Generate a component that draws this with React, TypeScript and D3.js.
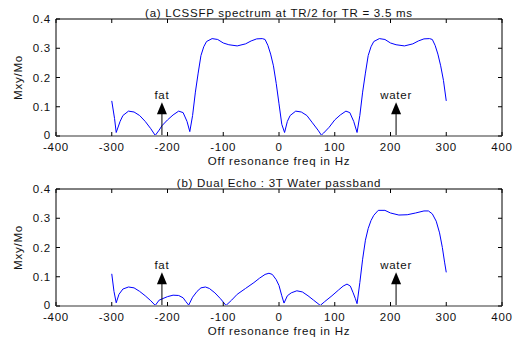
import React from 'react';
import * as d3 from 'd3';

// spectrum (a): off-resonance freq (Hz) and Mxy/Mo
const freqA = [-300, -295, -292, -285, -280, -270, -260, -250, -240, -230, -222, -215, -210, -200, -190, -180, -172, -165, -160, -155, -150, -145, -140, -135, -130, -120, -110, -100, -90, -75, -60, -50, -40, -30, -25, -20, -15, -10, -5, 0, 5, 10, 15, 20, 30, 40, 50, 60, 70, 76, 80, 90, 100, 110, 120, 127, 134, 140, 145, 150, 155, 160, 165, 170, 180, 190, 200, 210, 225, 240, 250, 260, 270, 275, 280, 285, 290, 295, 300];
const mxyA = [0.12, 0.06, 0.012, 0.05, 0.07, 0.085, 0.082, 0.07, 0.05, 0.025, 0.002, 0.02, 0.035, 0.055, 0.072, 0.085, 0.08, 0.05, 0.015, 0.07, 0.15, 0.215, 0.275, 0.305, 0.323, 0.333, 0.33, 0.318, 0.312, 0.308, 0.315, 0.325, 0.332, 0.333, 0.33, 0.31, 0.28, 0.24, 0.18, 0.11, 0.04, 0.012, 0.05, 0.07, 0.085, 0.082, 0.07, 0.045, 0.02, 0.003, 0.01, 0.03, 0.055, 0.072, 0.085, 0.08, 0.05, 0.012, 0.07, 0.15, 0.215, 0.275, 0.305, 0.323, 0.333, 0.33, 0.318, 0.312, 0.308, 0.315, 0.325, 0.332, 0.333, 0.33, 0.31, 0.28, 0.24, 0.19, 0.12];

// spectrum (b): dual echo, 3T water passband
const freqB = [-300, -296, -292, -287, -280, -270, -260, -250, -240, -230, -222, -215, -210, -200, -190, -180, -172, -167, -162, -155, -147, -140, -132, -125, -115, -105, -95, -85, -75, -60, -45, -35, -25, -18, -12, -5, 0, 5, 9, 15, 22, 32, 42, 52, 62, 74, 82, 95, 107, 115, 122, 128, 133, 137, 140, 145, 150, 155, 160, 165, 170, 178, 190, 200, 215, 230, 245, 260, 268, 275, 282, 288, 293, 297, 300];
const mxyB = [0.11, 0.05, 0.011, 0.04, 0.058, 0.065, 0.062, 0.05, 0.035, 0.018, 0.002, 0.02, 0.024, 0.032, 0.037, 0.036, 0.028, 0.015, 0.003, 0.03, 0.05, 0.062, 0.065, 0.06, 0.045, 0.025, 0.002, 0.02, 0.04, 0.06, 0.08, 0.095, 0.108, 0.112, 0.108, 0.09, 0.07, 0.035, 0.01, 0.035, 0.045, 0.052, 0.048, 0.035, 0.02, 0.002, 0.015, 0.035, 0.055, 0.068, 0.075, 0.068, 0.045, 0.025, 0.008, 0.08, 0.16, 0.225, 0.265, 0.292, 0.31, 0.327, 0.327, 0.318, 0.311, 0.312, 0.318, 0.325, 0.325, 0.315, 0.29, 0.25, 0.2, 0.15, 0.115];

// peak markers
const markerNames = ['fat', 'water'];
const markerFreqs = [-210, 210];
const markerHeight = 0.115;

const xTicks = [-400, -300, -200, -100, 0, 100, 200, 300, 400];
const yTicks = [0, 0.1, 0.2, 0.3, 0.4];

const titles = ['(a) LCSSFP spectrum at TR/2 for TR = 3.5 ms', '(b) Dual Echo : 3T Water passband'];

const W = 521;
const H = 339;
const left = 56;
const right = 502;
const font = '"Liberation Sans", Arial, sans-serif';

function Panel(props: { top: number; bottom: number; title: string; freq: number[]; mxy: number[] }) {
  const { top, bottom, title, freq, mxy } = props;
  const x = d3.scaleLinear().domain([-400, 400]).range([left, right]);
  const y = d3.scaleLinear().domain([0, 0.4]).range([bottom, top]);
  const line = d3.line<number>()
    .x((d, i) => x(freq[i]))
    .y(d => y(d));
  const tk = 4;
  const cx = (left + right) / 2;
  return (
    <g fontFamily={font} fontSize={11.5} letterSpacing={0.75} fill="#111">
      <text x={cx} y={top - 2} textAnchor="middle">{title}</text>
      <path d={line(mxy) || ''} fill="none" stroke="#0000ff" strokeWidth={1} />
      {/* fat / water arrows */}
      {markerFreqs.map((f, i) => {
        const ax = x(f);
        const tip = y(markerHeight);
        return (
          <g key={markerNames[i]}>
            <line x1={ax} x2={ax} y1={bottom} y2={tip + 6} stroke="#000" strokeWidth={1} />
            <path d={`M${ax},${tip}L${ax - 5},${tip + 12}L${ax + 5},${tip + 12}Z`} fill="#000" />
            <text x={ax} y={tip - 3} textAnchor="middle">{markerNames[i]}</text>
          </g>
        );
      })}
      {/* box */}
      <line x1={left} x2={right} y1={top} y2={top} stroke="#000" />
      <line x1={left} x2={left} y1={top} y2={bottom} stroke="#000" />
      <line x1={right} x2={right} y1={top} y2={bottom} stroke="#000" />
      <line x1={left} x2={right} y1={bottom} y2={bottom} stroke="#999" strokeWidth={2} />
      {xTicks.map(t => (
        <g key={'x' + t}>
          <line x1={x(t)} x2={x(t)} y1={bottom} y2={bottom - tk} stroke="#000" />
          <line x1={x(t)} x2={x(t)} y1={top} y2={top + tk} stroke="#000" />
          <text x={x(t)} y={bottom + 15} textAnchor="middle">{t}</text>
        </g>
      ))}
      {yTicks.map(t => (
        <g key={'y' + t}>
          <line x1={left} x2={left + tk} y1={y(t)} y2={y(t)} stroke="#000" />
          <line x1={right} x2={right - tk} y1={y(t)} y2={y(t)} stroke="#000" />
          <text x={left - 5} y={y(t)} dy={t === 0 ? '0.3em' : '0.35em'} textAnchor="end">{t === 0 ? '0' : d3.format('.1f')(t)}</text>
        </g>
      ))}
      <text x={cx} y={bottom + 29} textAnchor="middle">Off resonance freq in Hz</text>
      <text transform={`translate(22,${(top + bottom) / 2}) rotate(-90)`} textAnchor="middle">Mxy/Mo</text>
    </g>
  );
}

export default function App() {
  return (
    <svg width={W} height={H} style={{ position: 'absolute', left: 0, top: 0, background: '#fff' }}>
      <rect width={W} height={H} fill="#fff" />
      <Panel top={19} bottom={136} title={titles[0]} freq={freqA} mxy={mxyA} />
      <Panel top={189} bottom={306} title={titles[1]} freq={freqB} mxy={mxyB} />
    </svg>
  );
}
